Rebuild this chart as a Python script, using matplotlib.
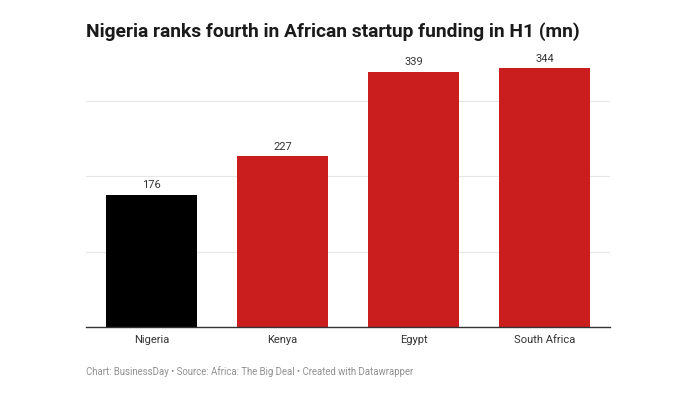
import numpy as np
import matplotlib
matplotlib.use("Agg")
import matplotlib.pyplot as plt

countries = ["Nigeria", "Kenya", "Egypt", "South Africa"]
funding = [176, 227, 339, 344]
colors = ["#000000", "#c91d1e", "#c91d1e", "#c91d1e"]

plt.rcParams['font.family'] = ['Roboto', 'DejaVu Sans']

fig = plt.figure(figsize=(6.96, 3.98), dpi=100)
ax = fig.add_axes([86/696, 71/398, 524/696, 271/398])

x = np.arange(len(countries))
ax.bar(x, funding, width=0.695, color=colors, zorder=2)
for xi, v in zip(x, funding):
    ax.text(xi, v + 6, str(v), ha="center", va="bottom", fontsize=8, color="#333333")

ax.set_xlim(-0.5, 3.5)
ax.set_ylim(0, 360)
ax.set_yticks([100, 200, 300])
ax.yaxis.grid(True, color="#e6e6e6", linewidth=0.8, zorder=0)
ax.tick_params(axis="y", left=False, labelleft=False)
ax.set_xticks(x)
ax.set_xticklabels(countries, fontsize=8, color="#333333")
ax.tick_params(axis="x", length=0, pad=6)
for s in ["top", "right", "left"]:
    ax.spines[s].set_visible(False)
ax.spines["bottom"].set_color("#333333")
ax.spines["bottom"].set_linewidth(1)

fig.text(86/696, 1 - 32/398, "Nigeria ranks fourth in African startup funding in H1 (mn)",
         fontsize=13.9, fontweight="bold", color="#1a1a1a", va="center", ha="left")
fig.text(86/696, 1 - 372/398, "Chart: BusinessDay \u2022 Source: Africa: The Big Deal \u2022 Created with Datawrapper",
         fontsize=6.9, color="#909090", va="center", ha="left")

fig.savefig("out.png", dpi=100)
